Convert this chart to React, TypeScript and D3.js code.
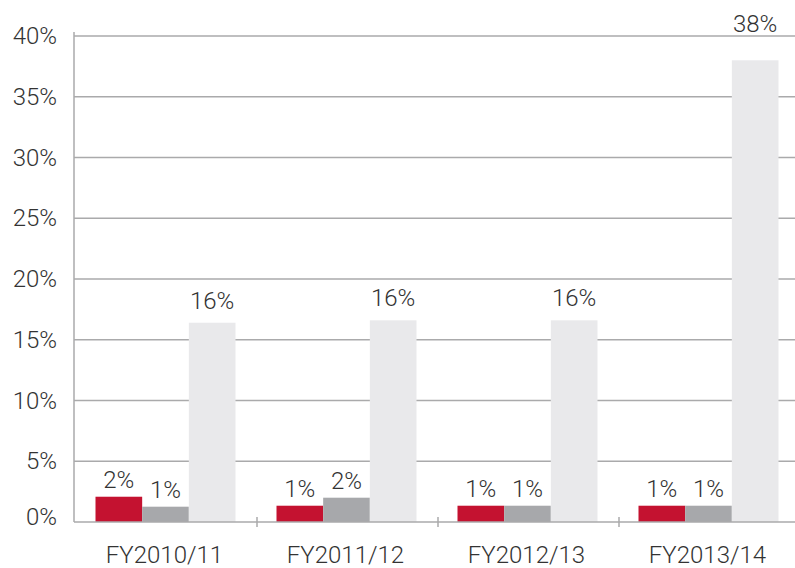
import React from "react";
import * as d3 from "d3";

const categories = ["FY2010/11", "FY2011/12", "FY2012/13", "FY2013/14"];
const seriesNames = ["A", "B", "C"];
const seriesA = [2.08, 1.34, 1.34, 1.34];
const seriesB = [1.26, 2.0, 1.34, 1.34];
const seriesC = [16.4, 16.6, 16.6, 38.0];
const labelsA = ["2%", "1%", "1%", "1%"];
const labelsB = ["1%", "2%", "1%", "1%"];
const labelsC = ["16%", "16%", "16%", "38%"];
const yTicks = [0, 5, 10, 15, 20, 25, 30, 35, 40];
const colors = ["#c41230", "#a7a8ab", "#e9e9eb"];

const W = 795;
const H = 568;
const left = 74;
const top = 36;
const bottom = 522;
const font = "Roboto, 'Liberation Sans', Arial, sans-serif";
const textColor = "#333333";

export default function App() {
  const x = d3.scaleBand<string>().domain(categories).range([76, 800]).paddingInner(0).paddingOuter(0);
  const inner = d3.scaleBand<string>().domain(seriesNames).range([0, 140]);
  const y = d3.scaleLinear().domain([0, 40]).range([bottom, top]);
  const series = [seriesA, seriesB, seriesC];
  const labels = [labelsA, labelsB, labelsC];
  const groupW = 140;

  return (
    <svg width={W} height={H} style={{ position: "absolute", left: 0, top: 0, background: "#fff" }}>
      {yTicks.map((t) => (
        <g key={t}>
          {t > 0 && <line x1={left} x2={W} y1={y(t)} y2={y(t)} stroke="#aaaaab" strokeWidth={1.5} />}
          <text x={57} y={y(t) + (t === 0 ? -5 : 0)} textAnchor="end" dominantBaseline="central"
            fontFamily={font} fontWeight={300} fontSize={24} fill={textColor}>{t}%</text>
        </g>
      ))}
      {categories.map((c, i) => {
        const gx = x(c)! + x.bandwidth() / 2 - groupW / 2 - 1;
        return (
          <g key={c}>
            {series.map((s, j) => {
              const v = s[i];
              const bx = gx + inner(seriesNames[j])!;
              const bw = inner.bandwidth();
              const ly = v > 35 ? y(40) - 4 : y(v) - (j === 2 ? 14 : 9);
              return (
                <g key={j}>
                  <rect x={bx} y={y(v)} width={bw} height={y(0) - y(v)} fill={colors[j]} />
                  <text x={bx + bw / 2} y={ly} textAnchor="middle" fontFamily={font} fontWeight={300}
                    fontSize={24} fill={textColor}>{labels[j][i]}</text>
                </g>
              );
            })}
            <text x={x(c)! + x.bandwidth() / 2 - 2} y={563} textAnchor="middle" fontFamily={font}
              fontWeight={300} fontSize={24} fill={textColor}>{c}</text>
          </g>
        );
      })}
      <line x1={left} x2={W} y1={y(0)} y2={y(0)} stroke="#aaaaab" strokeWidth={1.5} />
      <line x1={left} x2={left} y1={32} y2={y(0)} stroke="#aaaaab" strokeWidth={1.5} />
      {categories.slice(1).map((c) => (
        <line key={c} x1={x(c)!} x2={x(c)!} y1={y(0) - 5} y2={y(0) + 5} stroke="#aaaaab" strokeWidth={1.5} />
      ))}
    </svg>
  );
}
